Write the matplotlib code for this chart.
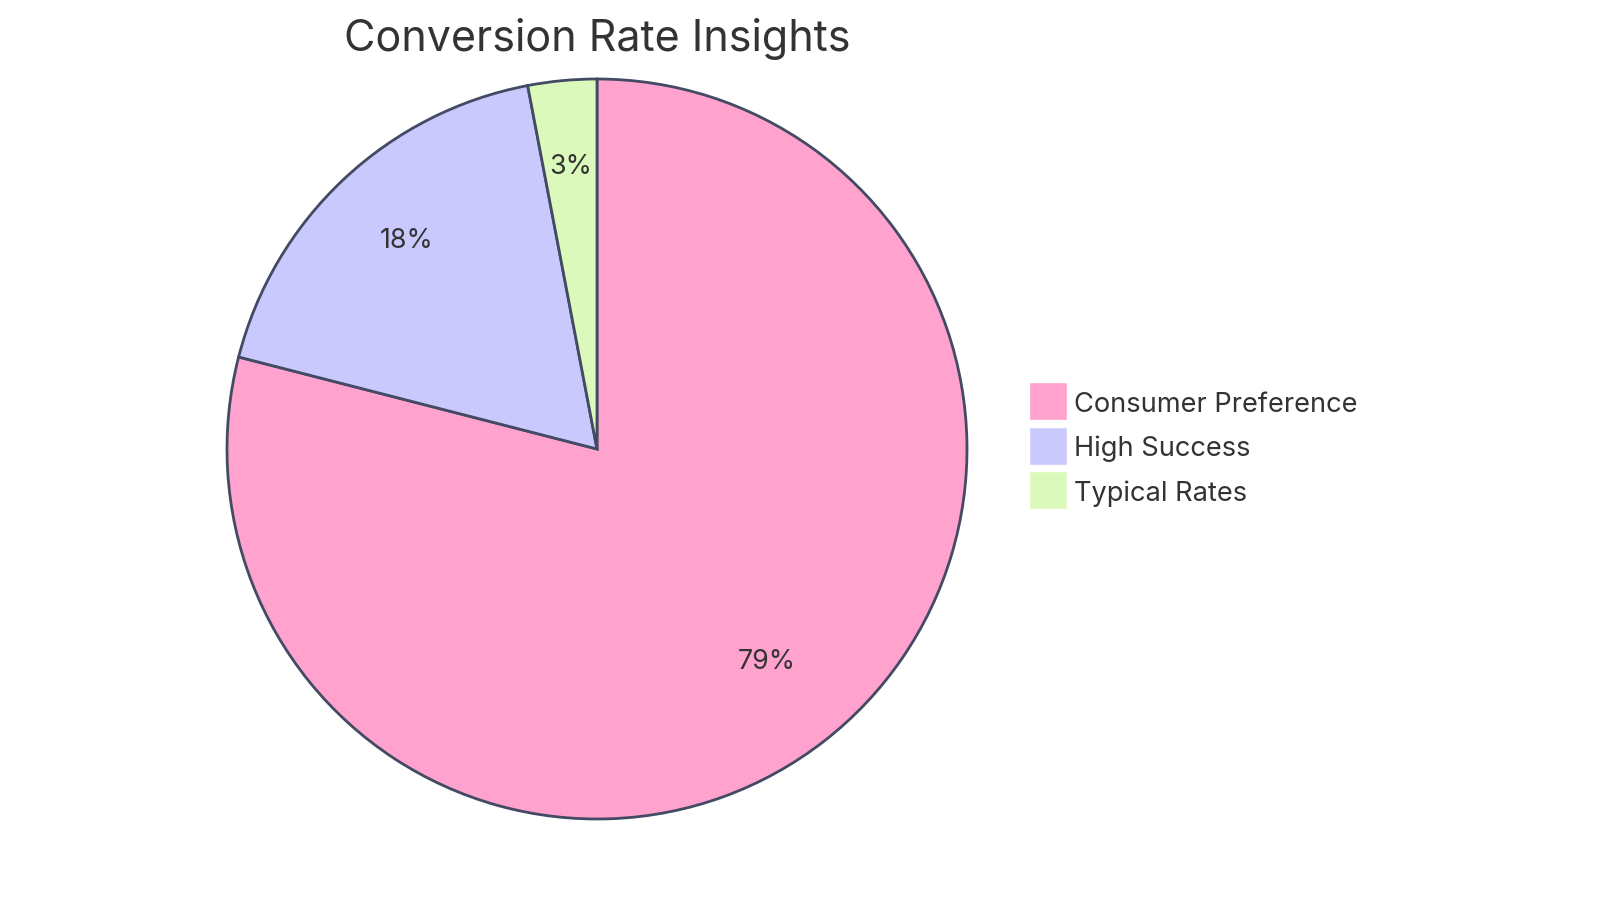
import matplotlib
matplotlib.use("Agg")
import matplotlib.pyplot as plt
from matplotlib.patches import Rectangle

# Datos del gráfico
etiquetas = ["Consumer Preference", "High Success", "Typical Rates"]
valores = [79, 18, 3]
colores = ["#FFA2CD", "#C9C9FE", "#DAF9BA"]

titulo = "Conversion Rate Insights"

plt.rcParams["font.family"] = ["Inter", "DejaVu Sans"]

W, H = 1600, 903
fig = plt.figure(figsize=(W / 100, H / 100), dpi=100)
ax = fig.add_axes([0, 0, 1, 1])

# pastel (ejes en pixeles, y hacia arriba)
cx, cy, r = 597, H - 450, 370
wedges, textos, pcts = ax.pie(
    valores,
    colors=colores,
    startangle=90,
    counterclock=False,
    center=(cx, cy),
    radius=r,
    autopct="%1.0f%%",
    pctdistance=0.75,
    wedgeprops=dict(edgecolor="#434A63", linewidth=2),
    textprops=dict(fontsize=19.3, color="#333333"),
    frame=True,
)
# el texto se apoya sobre el centroide, como en mermaid
for t in pcts:
    t.set_va("baseline")

ax.set_xlim(0, W)
ax.set_ylim(0, H)
ax.set_aspect("equal")
ax.axis("off")

# titulo
ax.text(cx, H - 51, titulo, ha="center", va="baseline",
        fontsize=31, color="#333333")

# leyenda
for i, (lab, col) in enumerate(zip(etiquetas, colores)):
    yc = H - (402 + i * 44.5)
    ax.add_patch(Rectangle((1029, yc - 19), 38, 38, facecolor=col,
                           edgecolor="white", linewidth=1))
    ax.text(1074, yc - 10, lab, ha="left", va="baseline", fontsize=19.6,
            color="#333333")

fig.savefig("out.png", dpi=100)
